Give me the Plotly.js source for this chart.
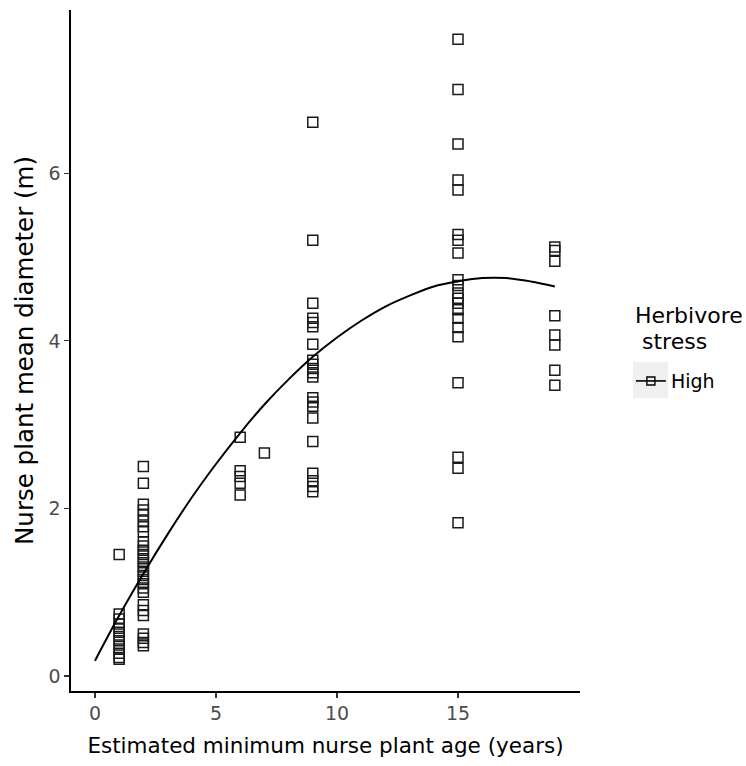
<!DOCTYPE html>
<html>
<head>
<meta charset="utf-8">
<script src="https://cdn.plot.ly/plotly-3.0.1.min.js"></script>
<style>html,body{margin:0;padding:0;background:#fff;}#chart{width:746px;height:766px;}</style>
</head>
<body>
<div id="chart"></div>
<script>
// Observed nurse plant ages (years) and diameters (m)
const age1 = [1,1,1,1,1,1,1,1,1,1,1,1,1];
const diam1 = [1.45,0.74,0.68,0.62,0.57,0.52,0.47,0.42,0.37,0.32,0.27,0.22,0.20];
const age2 = [2,2,2,2,2,2,2,2,2,2,2,2,2,2,2,2,2,2,2,2,2,2,2,2,2,2,2,2];
const diam2 = [2.50,2.30,2.05,1.98,1.92,1.85,1.78,1.72,1.60,1.55,1.50,1.45,1.40,1.35,1.30,1.25,1.20,1.15,1.10,1.05,1.00,0.85,0.78,0.72,0.50,0.45,0.40,0.36];
const age6 = [6,6,6,6,6];
const diam6 = [2.85,2.45,2.38,2.30,2.16];
const age7 = [7];
const diam7 = [2.66];
const age9 = [9,9,9,9,9,9,9,9,9,9,9,9,9,9,9,9,9,9,9,9,9];
const diam9 = [6.61,5.20,4.45,4.27,4.22,4.17,3.96,3.77,3.72,3.67,3.62,3.57,3.32,3.27,3.22,3.08,2.80,2.42,2.33,2.26,2.20];
const age15 = [15,15,15,15,15,15,15,15,15,15,15,15,15,15,15,15,15,15,15,15,15];
const diam15 = [7.60,7.00,6.35,5.92,5.80,5.27,5.20,5.05,4.73,4.66,4.57,4.51,4.45,4.37,4.27,4.16,4.05,3.50,2.61,2.48,1.83];
const age19 = [19,19,19,19,19,19,19,19];
const diam19 = [5.12,5.08,4.95,4.30,4.07,3.95,3.65,3.47];

// Fitted curve
const curveAge = [0,1,2,3,4,5,6,7,8,9,10,11,12,13,14,15,16,17,18,19];
const curveDiam = [0.18,0.72,1.22,1.69,2.13,2.53,2.90,3.24,3.54,3.81,4.04,4.24,4.41,4.54,4.65,4.71,4.75,4.75,4.71,4.65];

const legendTitleLines = ["Herbivore", " stress"];
const groupName = "High";
const xTicks = [0,5,10,15];
const yTicks = [0,2,4,6];

const ages = [].concat(age1, age2, age6, age7, age9, age15, age19);
const diams = [].concat(diam1, diam2, diam6, diam7, diam9, diam15, diam19);

const FONT = 'DejaVu Sans, Arial, sans-serif';
const markerStyle = {symbol: 'square-open', size: 10, color: '#1a1a1a', line: {width: 1.5, color: '#1a1a1a'}};

const data = [
  {x: ages, y: diams, type: 'scatter', mode: 'markers', marker: markerStyle, showlegend: false},
  {x: curveAge, y: curveDiam, type: 'scatter', mode: 'lines', line: {color: '#000', width: 2, shape: 'spline'}, showlegend: false},
  {x: [null], y: [null], type: 'scatter', mode: 'lines+markers', name: groupName,
   marker: {symbol: 'square-open', size: 8, color: '#000', line: {width: 1.4, color: '#000'}},
   line: {color: '#000', width: 1.6}, showlegend: true}
];

const layout = {
  width: 746, height: 766,
  margin: {l: 71, r: 166, t: 10, b: 75},
  paper_bgcolor: '#fff', plot_bgcolor: '#fff',
  font: {family: FONT, color: '#000'},
  xaxis: {
    range: [-0.99, 20.04], tickvals: xTicks, ticktext: xTicks.map(String),
    showgrid: false, zeroline: false, showline: true, linecolor: '#000', linewidth: 1.6,
    ticks: 'outside', ticklen: 5, tickcolor: '#333', tickwidth: 1.2,
    tickfont: {family: FONT, size: 19, color: '#4d4d4d'},
    title: {text: 'Estimated minimum nurse plant age (years)', font: {family: FONT, size: 21.5, color: '#000'}, standoff: 14}
  },
  yaxis: {
    range: [-0.18, 7.95], tickvals: yTicks, ticktext: yTicks.map(String),
    showgrid: false, zeroline: false, showline: true, linecolor: '#000', linewidth: 1.6,
    ticks: 'outside', ticklen: 5, tickcolor: '#333', tickwidth: 1.2,
    tickfont: {family: FONT, size: 19, color: '#4d4d4d'},
    title: {text: 'Nurse plant mean diameter (m)', font: {family: FONT, size: 24.5, color: '#000'}, standoff: 8}
  },
  legend: {
    x: 1.1, xanchor: 'left', y: 0.483, yanchor: 'top',
    bgcolor: 'rgba(0,0,0,0)', font: {family: FONT, size: 19, color: '#000'},
    itemwidth: 30, tracegroupgap: 0
  },
  annotations: [
    {xref: 'paper', yref: 'paper', x: 1.104, y: 0.552, xanchor: 'left', yanchor: 'middle', showarrow: false,
     text: legendTitleLines[0], font: {family: FONT, size: 22, color: '#000'}},
    {xref: 'paper', yref: 'paper', x: 1.104, y: 0.5125, xanchor: 'left', yanchor: 'middle', showarrow: false,
     text: legendTitleLines[1].replace(' ', '&nbsp;'), font: {family: FONT, size: 22, color: '#000'}}
  ],
  shapes: [
    {type: 'rect', xref: 'paper', yref: 'paper', x0: 1.104, x1: 1.173, y0: 0.430, y1: 0.483,
     fillcolor: '#f0f0f0', line: {width: 0}, layer: 'below'}
  ]
};

Plotly.newPlot('chart', data, layout, {displayModeBar: false, staticPlot: true});
</script>
</body>
</html>
